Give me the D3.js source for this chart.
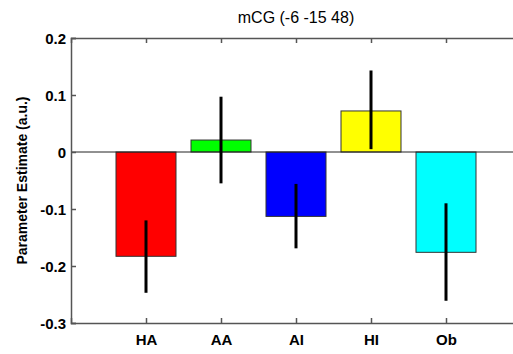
<!DOCTYPE html>
<html>
<head>
<meta charset="utf-8">
<script src="https://cdn.jsdelivr.net/npm/d3@7"></script>
<style>
  body { margin: 0; background: #fff; }
  text { font-family: Arial, "Liberation Sans", sans-serif; }
</style>
</head>
<body>
<script>
var categories = ["HA", "AA", "AI", "HI", "Ob"];
var values = [-0.183, 0.021, -0.113, 0.072, -0.176];
var err_low = [-0.247, -0.055, -0.169, 0.005, -0.261];
var err_high = [-0.120, 0.097, -0.056, 0.143, -0.090];
var bar_colors = ["#ff0000", "#00ff00", "#0000ff", "#ffff00", "#00ffff"];
var y_ticks = [0.2, 0.1, 0, -0.1, -0.2, -0.3];
var y_tick_labels = ["0.2", "0.1", "0", "-0.1", "-0.2", "-0.3"];
var title = "mCG (-6 -15 48)";
var y_label = "Parameter Estimate (a.u.)";

var width = 513;
var height = 354;
var plot_left = 71, plot_right = 521, plot_top = 38, plot_bottom = 323;
var axis_color = "#555";

var svg = d3.select('body').append('svg')
      .attr('width', width)
      .attr('height', height);

// x in category units, xlim [0, 6] like matlab
var x = d3.scaleLinear().domain([0, 6]).range([plot_left, plot_right]);
var y = d3.scaleLinear().domain([-0.3, 0.2]).range([plot_bottom, plot_top]);
var bw = (x(1) - x(0)) * 0.8;

// bars
svg.selectAll('rect.bar')
    .data(values)
    .enter()
    .append('rect')
    .attr('class', 'bar')
    .attr('x', function (d, i) { return x(i + 1) - bw / 2; })
    .attr('y', function (d) { return y(Math.max(0, d)); })
    .attr('width', bw)
    .attr('height', function (d) { return Math.abs(y(d) - y(0)); })
    .style('fill', function (d, i) { return bar_colors[i]; })
    .style('stroke', '#333')
    .style('stroke-width', 1);

// zero line
svg.append('line')
    .attr('x1', plot_left).attr('x2', plot_right)
    .attr('y1', y(0)).attr('y2', y(0))
    .style('stroke', '#222').style('stroke-width', 1);

// error bars
svg.selectAll('line.err')
    .data(values)
    .enter()
    .append('line')
    .attr('class', 'err')
    .attr('x1', function (d, i) { return x(i + 1); })
    .attr('x2', function (d, i) { return x(i + 1); })
    .attr('y1', function (d, i) { return y(err_low[i]); })
    .attr('y2', function (d, i) { return y(err_high[i]); })
    .style('stroke', '#000')
    .style('stroke-width', 3);

// axes box, ticks inward
var xAxisBottom = d3.axisBottom(x).tickValues([1, 2, 3, 4, 5])
    .tickSize(-5).tickPadding(11)
    .tickFormat(function (d) { return categories[d - 1]; });
var gxb = svg.append('g').attr('transform', 'translate(0,' + plot_bottom + ')').call(xAxisBottom);

var xAxisTop = d3.axisTop(x).tickValues([1, 2, 3, 4, 5])
    .tickSize(-5).tickFormat('');
var gxt = svg.append('g').attr('transform', 'translate(0,' + plot_top + ')').call(xAxisTop);

var yAxis = d3.axisLeft(y).tickValues(y_ticks)
    .tickSize(-5).tickPadding(5)
    .tickFormat(function (d, i) { return y_tick_labels[i]; });
var gy = svg.append('g').attr('transform', 'translate(' + plot_left + ',0)').call(yAxis);

[gxb, gxt, gy].forEach(function (g) {
    g.select('.domain').style('stroke', axis_color).style('stroke-width', 1.5);
    g.selectAll('.tick line').style('stroke', axis_color).style('stroke-width', 1.5);
    g.selectAll('.tick text')
        .style('font-size', '15px')
        .style('font-weight', 'bold')
        .style('font-family', 'Arial, "Liberation Sans", sans-serif')
        .style('fill', '#000');
});
gy.selectAll('.tick text').attr('dy', '0.35em');

// title
svg.append('text')
    .attr('x', (plot_left + plot_right) / 2)
    .attr('y', 23)
    .attr('text-anchor', 'middle')
    .style('font-size', '16px')
    .text(title);

// y label
svg.append('text')
    .attr('transform', 'translate(27,' + (plot_top + plot_bottom) / 2 + ') rotate(-90)')
    .attr('text-anchor', 'middle')
    .style('font-size', '14px')
    .style('font-weight', 'bold')
    .text(y_label);
</script>
</body>
</html>
